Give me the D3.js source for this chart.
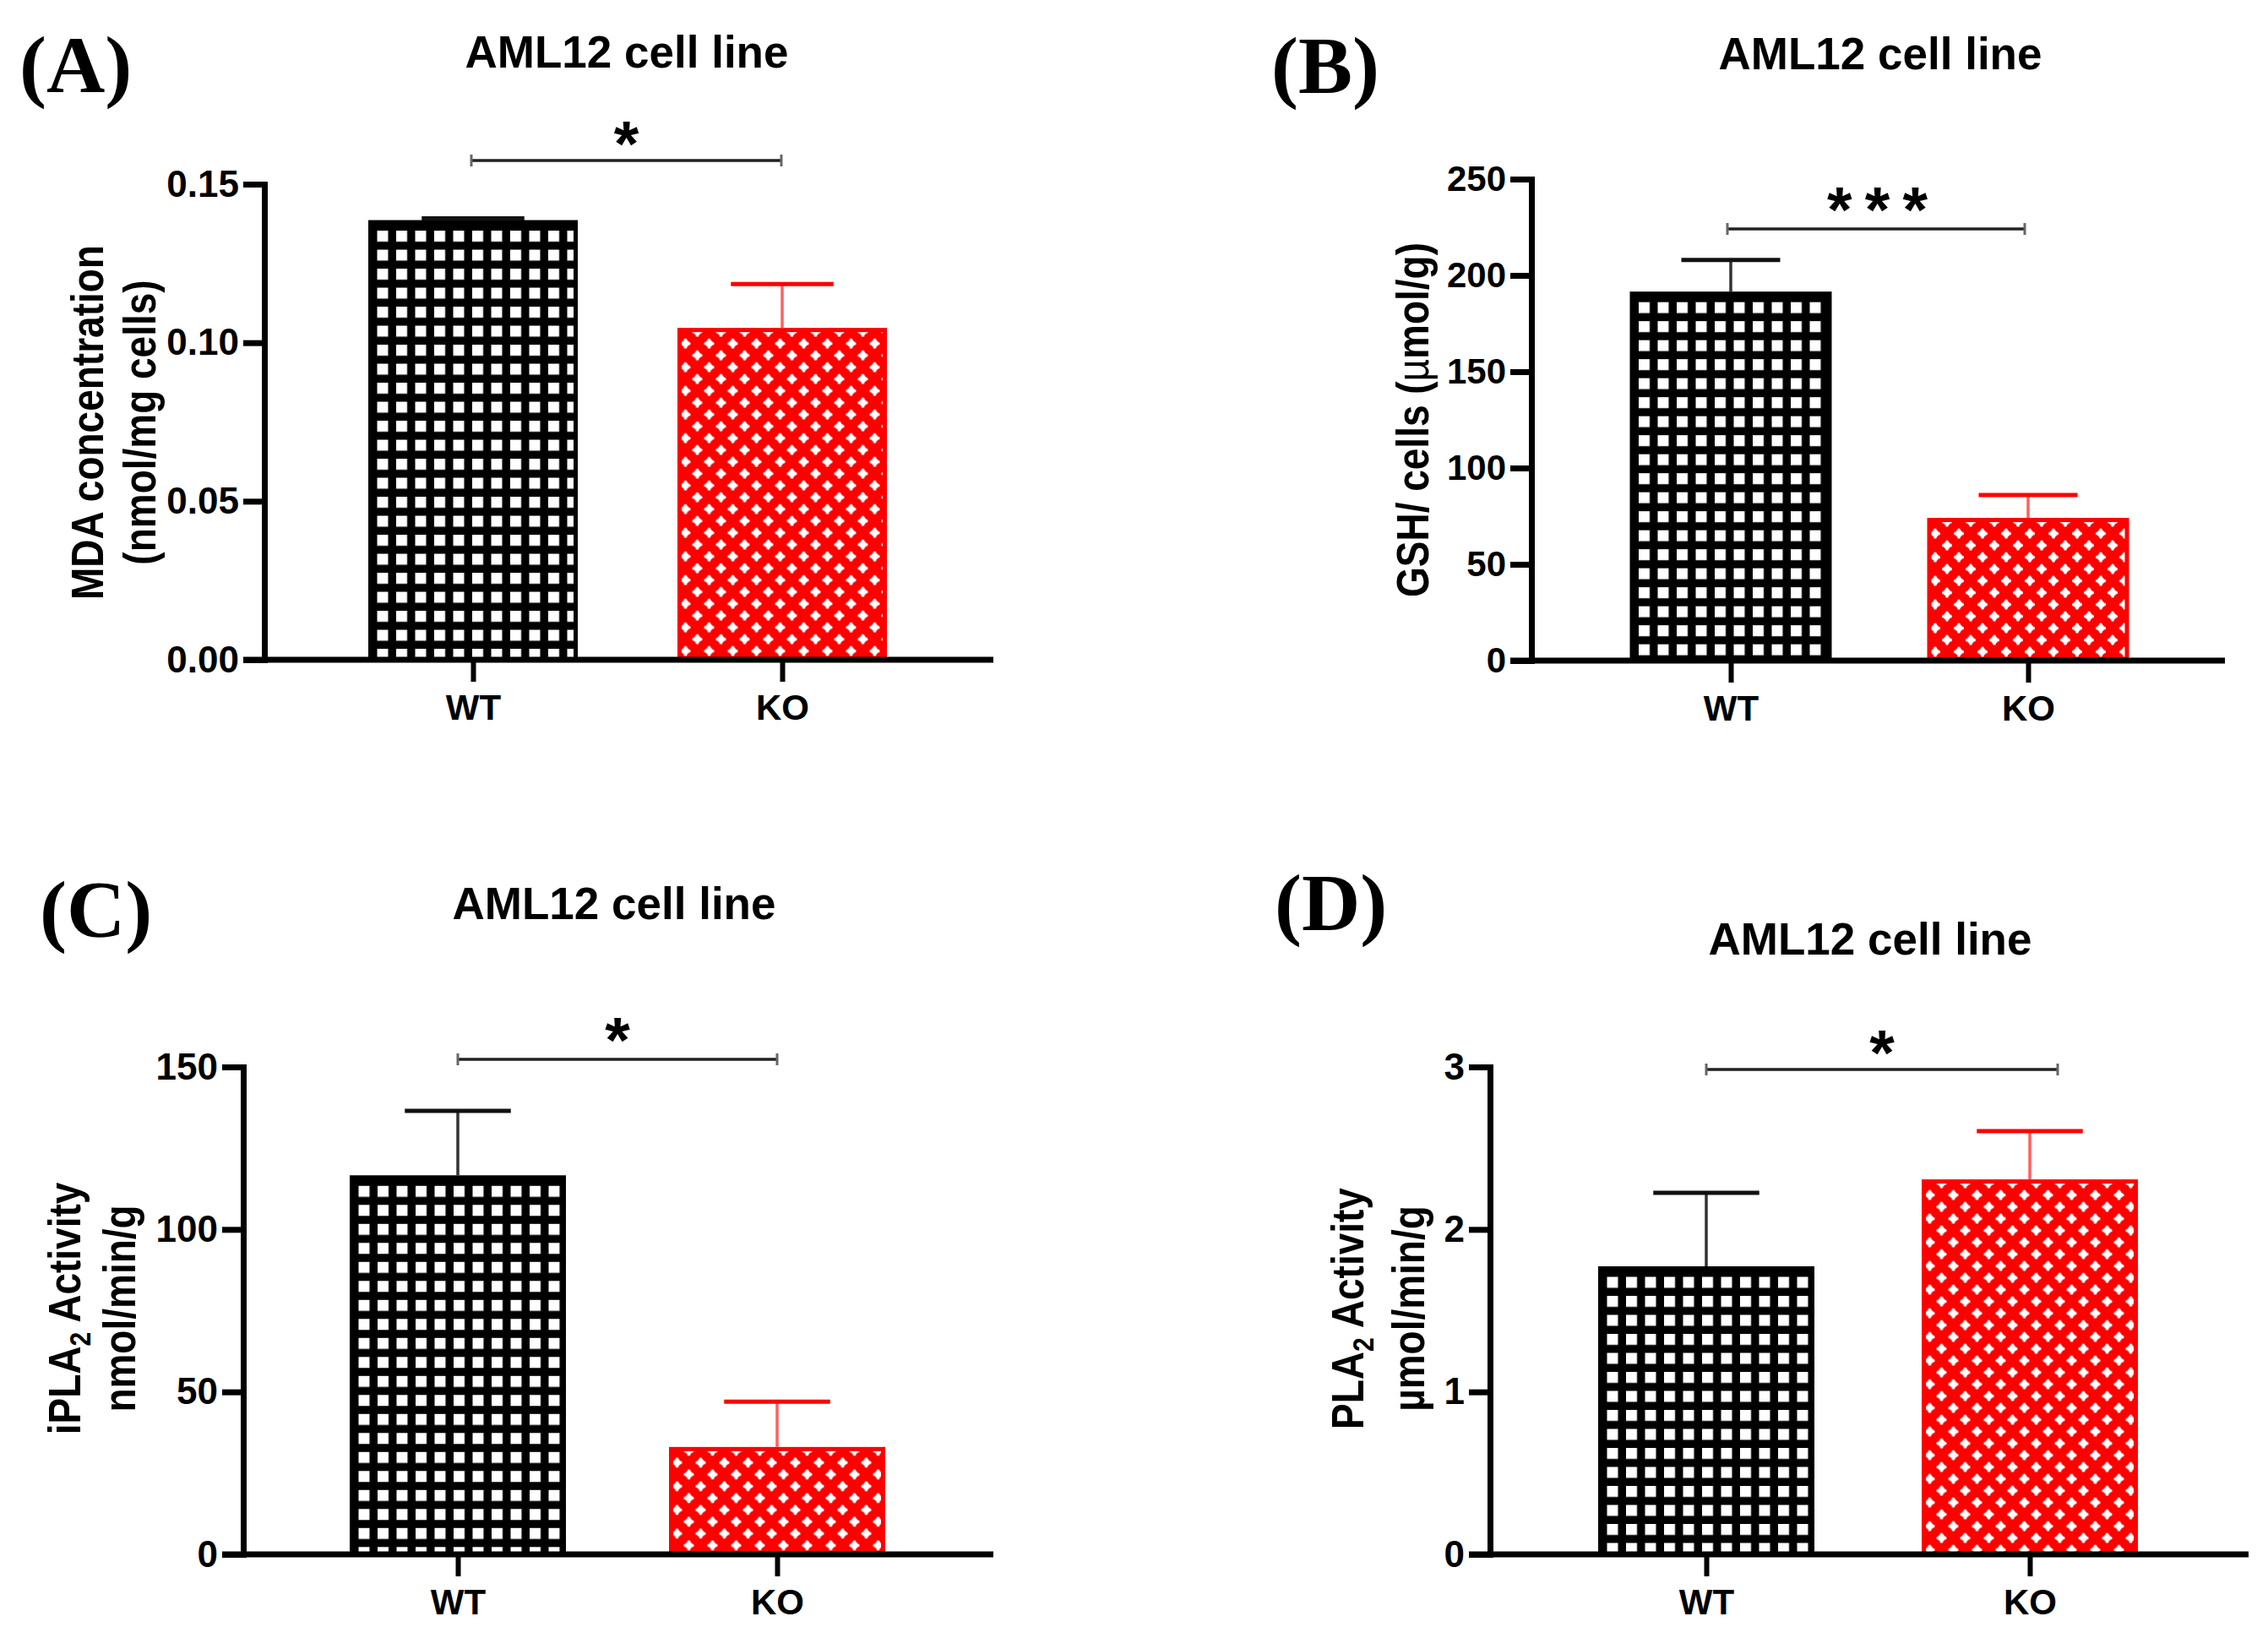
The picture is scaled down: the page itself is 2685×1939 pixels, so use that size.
<!DOCTYPE html>
<html>
<head>
<meta charset="utf-8">
<script src="https://cdn.jsdelivr.net/npm/d3@7"></script>
<style>
  body { margin: 0; background: #fff; }
  svg { display: block; }
</style>
</head>
<body>
<svg id="chart" width="2685" height="1939"></svg>
<script>
// categories
const groups = ["WT", "KO"];

// (A) MDA concentration, nmol/mg cells
const mdaMean = [0.138, 0.104];
const mdaSem = [0.0012, 0.0145];
const mdaTicks = [0, 0.05, 0.10, 0.15];

// (B) GSH / cells, umol/g
const gshMean = [190.5, 73];
const gshSem = [17.5, 13];
const gshTicks = [0, 50, 100, 150, 200, 250];

// (C) iPLA2 activity, nmol/min/g
const iplaMean = [116, 32.4];
const iplaSem = [20.5, 14.6];
const iplaTicks = [0, 50, 100, 150];

// (D) PLA2 activity, umol/min/g
const plaMean = [1.76, 2.295];
const plaSem = [0.465, 0.31];
const plaTicks = [0, 1, 2, 3];

const panelLetters = ["(A)", "(B)", "(C)", "(D)"];
const titles = ["AML12 cell line", "AML12 cell line", "AML12 cell line", "AML12 cell line"];
const sigMarks = ["*", "* * *", "*", "*"];

// y labels: each line is a list of [text, style] pieces
const yLabels = [
  [[["MDA concentration", ""]], [["(nmol/mg cells)", ""]]],
  [[["GSH/ cells (", ""], ["µ", "mu"], ["mol/g)", ""]]],
  [[["iPLA", ""], ["2", "sub"], [" Activity", ""]], [["nmol/min/g", ""]]],
  [[["PLA", ""], ["2", "sub"], [" Activity", ""]], [["µmol/min/g", ""]]]
];

const SANS = "'Liberation Sans', Arial, Helvetica, sans-serif";
const SERIF = "'Liberation Serif', 'Times New Roman', serif";
const RED = "#ff0000";

const svg = d3.select("#chart");
const defs = svg.append("defs");

// where every panel sits on the page (pixels)
const layout = [
  { letter: [23, 109], title: [742, 80], axisX: 313, yTop: 218, yBottom: 781, xEnd: 1176, tickFont: 44,
    centers: [560, 926], barW: 243, sigY: 190, sigX: [558, 925], starY: 152, labelY: 500, labelX: [104, 166] },
  { letter: [1505, 110], title: [2226, 82], axisX: 1813, yTop: 212, yBottom: 782, xEnd: 2634, tickFont: 42,
    centers: [2049, 2401], barW: 234, sigY: 271, sigX: [2045, 2397], starY: 230, labelY: 497, labelX: [1673] },
  { letter: [47, 1109], title: [727, 1088], axisX: 288, yTop: 1263, yBottom: 1840, xEnd: 1176, tickFont: 44,
    centers: [542, 920], barW: 251, sigY: 1254, sigX: [542, 920], starY: 1213, labelY: 1549, labelX: [77, 142] },
  { letter: [1509, 1101], title: [2214, 1130], axisX: 1764, yTop: 1263, yBottom: 1840, xEnd: 2662, tickFont: 44,
    centers: [2020, 2403], barW: 251, sigY: 1266, sigX: [2020, 2436], starY: 1228, labelY: 1549, labelX: [1596, 1668] }
];

const panels = [
  { means: mdaMean, sems: mdaSem, ticks: mdaTicks, fmt: d3.format(".2f") },
  { means: gshMean, sems: gshSem, ticks: gshTicks, fmt: d3.format("d") },
  { means: iplaMean, sems: iplaSem, ticks: iplaTicks, fmt: d3.format("d") },
  { means: plaMean, sems: plaSem, ticks: plaTicks, fmt: d3.format("d") }
];

// black bar with white squares
function gridPattern(id, x0, y0) {
  const p = defs.append("pattern")
    .attr("id", id)
    .attr("patternUnits", "userSpaceOnUse")
    .attr("x", x0).attr("y", y0)
    .attr("width", 22.5).attr("height", 22.5);
  p.append("rect").attr("width", 22.5).attr("height", 22.5).attr("fill", "#000");
  p.append("rect").attr("width", 13).attr("height", 13).attr("fill", "#fff");
}

// red bar with staggered white dots
function dotPattern(id, x0, y0) {
  const p = defs.append("pattern")
    .attr("id", id)
    .attr("patternUnits", "userSpaceOnUse")
    .attr("x", x0).attr("y", y0)
    .attr("width", 28).attr("height", 28);
  p.append("rect").attr("width", 28).attr("height", 28).attr("fill", RED);
  [[7, 7], [21, 21]].forEach(([cx, cy]) => {
    p.append("circle").attr("cx", cx).attr("cy", cy).attr("r", 4.4).attr("fill", "#fff");
    p.append("rect").attr("x", cx - 6).attr("y", cy - 1.8).attr("width", 12).attr("height", 3.6).attr("rx", 1.6).attr("fill", "#fff");
    p.append("rect").attr("x", cx - 1.8).attr("y", cy - 6).attr("width", 3.6).attr("height", 12).attr("rx", 1.6).attr("fill", "#fff");
  });
}

panels.forEach((p, k) => {
  const L = layout[k];
  const g = svg.append("g");

  const y = d3.scaleLinear()
    .domain([0, d3.max(p.ticks)])
    .range([L.yBottom, L.yTop]);

  const x = d3.scalePoint()
    .domain(groups)
    .range(L.centers);

  // patterns, anchored at each bar's corner
  groups.forEach((d, i) => {
    const left = x(d) - L.barW / 2;
    const top = y(p.means[i]);
    if (i === 0) gridPattern(`pat${k}${i}`, left + 8, top + 10);
    else dotPattern(`pat${k}${i}`, left, top + 9);
  });

  // bars
  g.selectAll("rect.bar")
    .data(groups)
    .join("rect")
      .attr("class", "bar")
      .attr("x", d => x(d) - L.barW / 2)
      .attr("y", (d, i) => y(p.means[i]))
      .attr("width", L.barW)
      .attr("height", (d, i) => y(0) - y(p.means[i]))
      .attr("fill", (d, i) => `url(#pat${k}${i})`)
      .attr("stroke", (d, i) => i === 0 ? "#000" : RED)
      .attr("stroke-width", 5);

  // error bars (mean + SEM)
  const capW = L.barW * 0.5;
  g.selectAll("line.stem")
    .data(groups)
    .join("line")
      .attr("class", "stem")
      .attr("x1", d => x(d)).attr("x2", d => x(d))
      .attr("y1", (d, i) => y(p.means[i]) - 2.5)
      .attr("y2", (d, i) => y(p.means[i] + p.sems[i]))
      .attr("stroke", (d, i) => i === 0 ? "#333" : "#ff6060")
      .attr("stroke-width", 3.5);
  g.selectAll("line.cap")
    .data(groups)
    .join("line")
      .attr("class", "cap")
      .attr("x1", d => x(d) - capW / 2).attr("x2", d => x(d) + capW / 2)
      .attr("y1", (d, i) => y(p.means[i] + p.sems[i]))
      .attr("y2", (d, i) => y(p.means[i] + p.sems[i]))
      .attr("stroke", (d, i) => i === 0 ? "#111" : RED)
      .attr("stroke-width", 5);

  // y axis
  g.append("g")
    .attr("transform", `translate(${L.axisX},0)`)
    .call(d3.axisLeft(y).tickValues(p.ticks).tickFormat(p.fmt).tickSize(25).tickSizeOuter(0).tickPadding(5))
    .call(a => a.select(".domain").attr("stroke", "#000").attr("stroke-width", 7).attr("stroke-linecap", "square"))
    .call(a => a.selectAll(".tick line").attr("stroke", "#000").attr("stroke-width", 7))
    .call(a => a.selectAll(".tick text")
      .attr("fill", "#000")
      .attr("font-family", SANS)
      .attr("font-weight", "bold")
      .attr("font-size", L.tickFont));

  // x axis baseline, extended left like the tick marks
  g.append("line")
    .attr("x1", L.axisX - 25).attr("x2", L.xEnd)
    .attr("y1", y(0)).attr("y2", y(0))
    .attr("stroke", "#000")
    .attr("stroke-width", 7);

  g.append("g")
    .attr("transform", `translate(0,${y(0)})`)
    .call(d3.axisBottom(x).tickSize(26).tickPadding(15))
    .call(a => a.select(".domain").remove())
    .call(a => a.selectAll(".tick line").attr("stroke", "#000").attr("stroke-width", 6))
    .call(a => a.selectAll(".tick text")
      .attr("fill", "#000")
      .attr("font-family", SANS)
      .attr("font-weight", "bold")
      .attr("font-size", 42));

  // title
  g.append("text")
    .attr("x", L.title[0]).attr("y", L.title[1])
    .attr("text-anchor", "middle")
    .attr("font-family", SANS)
    .attr("font-weight", "bold")
    .attr("font-size", 53)
    .text(titles[k]);

  // panel letter
  g.append("text")
    .attr("x", L.letter[0]).attr("y", L.letter[1])
    .attr("font-family", SERIF)
    .attr("font-weight", "bold")
    .attr("font-size", 96)
    .text(panelLetters[k]);

  // significance bracket
  const [sx1, sx2] = L.sigX;
  g.append("line")
    .attr("x1", sx1).attr("x2", sx2)
    .attr("y1", L.sigY).attr("y2", L.sigY)
    .attr("stroke", "#222")
    .attr("stroke-width", 3.5);
  [sx1, sx2].forEach(sx => {
    g.append("line")
      .attr("x1", sx).attr("x2", sx)
      .attr("y1", L.sigY - 7).attr("y2", L.sigY + 7)
      .attr("stroke", "#666")
      .attr("stroke-width", 3);
  });
  g.append("text")
    .attr("x", (sx1 + sx2) / 2)
    .attr("y", L.starY + 44)
    .attr("text-anchor", "middle")
    .attr("font-family", SANS)
    .attr("font-weight", "bold")
    .attr("font-size", 76)
    .attr("letter-spacing", sigMarks[k].length > 1 ? -3 : 0)
    .text(sigMarks[k]);

  // y label, slightly stretched across its line like the original
  yLabels[k].forEach((line, j) => {
    const t = g.append("text")
      .attr("transform", `translate(${L.labelX[j]},${L.labelY}) rotate(-90) scale(1,1.18)`)
      .attr("text-anchor", "middle")
      .attr("font-family", SANS)
      .attr("font-weight", "bold")
      .attr("font-size", 46)
      .attr("dy", "0.34em");
    let shifted = false;
    line.forEach(([txt, style]) => {
      const s = t.append("tspan").text(txt);
      if (style === "sub") {
        s.attr("font-size", 30).attr("dy", 10);
        shifted = true;
      } else if (shifted) {
        s.attr("dy", -10);
        shifted = false;
      }
      if (style === "mu") s.attr("font-weight", "normal");
    });
  });
});
</script>
</body>
</html>
